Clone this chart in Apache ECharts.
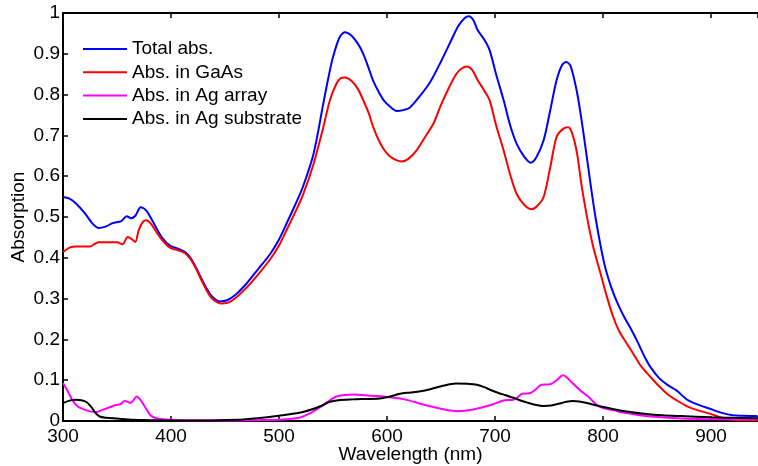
<!DOCTYPE html>
<html>
<head>
<meta charset="utf-8">
<script src="https://cdn.jsdelivr.net/npm/echarts@6/dist/echarts.min.js"></script>
<style>
html,body{margin:0;padding:0;background:#fff;}
#chart{width:758px;height:466px;}
</style>
</head>
<body>
<div id="chart"></div>
<script>
// Total absorption (blue)
var totalX = [300,306,312,320,327,333,340,346,354,359,363,367,372,377,385,392,399,407,413,418,423,428,433,438,445,452,460,470,480,492,500,507,515,522,532,541,546,550,556,561,567,573,578,583,587,592,597,603,609,615,621,630,640,649,658,666,672,676,680,684,690,695,701,708,714,720,727,733,738,745,751,757,762,766,770,775.6,780,785,789,793,797,802,808,814,820,826,832,838,844,852,860,868,878,888,899,910,920,930,943];
var totalY = [0.549,0.545,0.533,0.51,0.485,0.473,0.477,0.485,0.490,0.502,0.497,0.503,0.524,0.516,0.48,0.448,0.43,0.422,0.414,0.400,0.377,0.350,0.325,0.305,0.293,0.296,0.310,0.337,0.370,0.410,0.445,0.484,0.530,0.573,0.655,0.778,0.845,0.892,0.940,0.953,0.945,0.925,0.90,0.865,0.835,0.808,0.786,0.770,0.760,0.762,0.768,0.795,0.831,0.876,0.925,0.968,0.988,0.992,0.982,0.958,0.935,0.909,0.85,0.786,0.725,0.680,0.648,0.633,0.645,0.688,0.76,0.835,0.872,0.880,0.870,0.81,0.74,0.647,0.57,0.50,0.44,0.377,0.325,0.285,0.253,0.225,0.194,0.160,0.132,0.105,0.088,0.075,0.052,0.040,0.030,0.020,0.014,0.013,0.012];

// Absorption in GaAs (red)
var gaasX = [300,306,312,318,325,330,333,340,350,355,360,364,367,370,374,377,381,386,392,399,407,413,418,423,428,433,438,446,453,460,470,480,492,500,507,515,522,532,541,547,553,557,561,567,573,578,583,587,592,597,602,608,614,620,627,635,643,650,657,664,669,674,679,684,690,695,701,708,714,720,727,734,739,745,751,757,763,768,772,776,780,783.5,787,791,797,803,809,815,822,828,835,844,852,860,868,878,888,899,910,920,930,943];
var gaasY = [0.414,0.425,0.428,0.428,0.428,0.435,0.438,0.438,0.438,0.433,0.451,0.445,0.439,0.467,0.488,0.492,0.485,0.465,0.443,0.425,0.418,0.411,0.397,0.374,0.346,0.320,0.300,0.288,0.290,0.302,0.327,0.357,0.397,0.43,0.468,0.512,0.553,0.63,0.72,0.785,0.826,0.840,0.842,0.834,0.814,0.786,0.755,0.722,0.690,0.666,0.650,0.640,0.636,0.643,0.662,0.695,0.729,0.775,0.815,0.850,0.864,0.869,0.86,0.835,0.81,0.786,0.725,0.663,0.604,0.557,0.53,0.519,0.527,0.549,0.62,0.696,0.716,0.720,0.70,0.655,0.58,0.525,0.475,0.426,0.368,0.31,0.258,0.220,0.19,0.165,0.135,0.108,0.085,0.065,0.051,0.036,0.026,0.018,0.008,0.003,0.002,0.002];

// Absorption in Ag array (magenta)
var arrayX = [300,305,309,314,320,326,331,337,343.5,349,353,357,360,362,365,368,370,373,377,381,385,390,400,420,450,480,500,510,519,528,538,545,553,561,570,580,590,600,612,621,630,640,650,658,665,672,683,692,698,704,709,717,721,725,732,737,743,751,757,763,766,771,779,787,794,800,810,820,840,860,886,910,943];
var arrayY = [0.093,0.07,0.05,0.035,0.028,0.023,0.022,0.028,0.034,0.039,0.041,0.049,0.047,0.044,0.05,0.06,0.057,0.047,0.03,0.014,0.008,0.005,0.003,0.001,0.001,0.002,0.003,0.005,0.008,0.018,0.034,0.047,0.060,0.064,0.065,0.063,0.061,0.059,0.055,0.050,0.043,0.036,0.030,0.026,0.024,0.025,0.030,0.036,0.041,0.047,0.051,0.052,0.058,0.067,0.068,0.076,0.089,0.090,0.100,0.112,0.108,0.095,0.075,0.058,0.040,0.032,0.026,0.02,0.012,0.008,0.005,0.004,0.004];

// Absorption in Ag substrate (black)
var substrateX = [300,306,312,317,322,326,330,334,340,350,365,380,400,430,460,480,500,519,530,540,547,555,568,580,593,603,612,622,631,640,650,658,664,675,683,690,696,702,710,717,723,730,737,745,752,760,766,772,778,785,797,810,825,840,855,872,900,920,943];
var substrateY = [0.044,0.05,0.052,0.051,0.046,0.035,0.02,0.011,0.008,0.006,0.003,0.002,0.001,0.001,0.003,0.007,0.013,0.020,0.028,0.038,0.047,0.051,0.053,0.054,0.055,0.060,0.067,0.070,0.073,0.078,0.085,0.090,0.092,0.091,0.089,0.083,0.076,0.070,0.063,0.057,0.051,0.045,0.040,0.037,0.038,0.043,0.047,0.049,0.048,0.044,0.036,0.029,0.022,0.017,0.014,0.012,0.009,0.008,0.007];

var seriesNames = ['Total abs.', 'Abs. in GaAs', 'Abs. in Ag array', 'Abs. in Ag substrate'];
var seriesColors = ['#0000ff', '#ff0000', '#ff00ff', '#000000'];
var xTicks = [300,400,500,600,700,800,900];

function zip(xs, ys){ return xs.map(function(x,i){ return [x, ys[i]]; }); }
var allData = [zip(totalX,totalY), zip(gaasX,gaasY), zip(arrayX,arrayY), zip(substrateX,substrateY)];

var FONT = '"Liberation Sans", Arial, sans-serif';
var chart = echarts.init(document.getElementById('chart'), null, {renderer:'canvas'});
var option = {
  animation: false,
  backgroundColor: '#ffffff',
  grid: {left: 63, right: 0, top: 13, bottom: 45, containLabel: false, outerBoundsMode: 'none'},
  legend: {
    orient: 'vertical', left: 78, top: 34,
    itemWidth: 44, itemHeight: 2, itemGap: 3.3, icon: 'rect',
    textStyle: {fontFamily: FONT, fontSize: 19, color: '#000', lineHeight: 20},
    data: seriesNames
  },
  xAxis: [{
    type: 'value', min: 300, max: 943.5, interval: 100, position: 'bottom',
    axisLine: {show: true, lineStyle: {color: '#000', width: 2}},
    axisTick: {show: true, inside: true, length: 5, lineStyle: {color: '#000', width: 1.5}},
    axisLabel: {fontFamily: FONT, fontSize: 19, color: '#000', margin: 6,
      formatter: function(v){ return xTicks.indexOf(v) >= 0 ? String(v) : ''; }},
    splitLine: {show: false},
    name: 'Wavelength (nm)', nameLocation: 'middle', nameGap: 24, nameMoveOverlap: false,
    nameTextStyle: {fontFamily: FONT, fontSize: 19, color: '#000'}
  },{
    type: 'value', min: 300, max: 943.5, interval: 100, position: 'top',
    axisLine: {show: true, lineStyle: {color: '#000', width: 2}},
    axisTick: {show: true, inside: true, length: 5, lineStyle: {color: '#000', width: 1.5}},
    axisLabel: {show: false},
    splitLine: {show: false}
  }],
  yAxis: {
    type: 'value', min: 0, max: 1, interval: 0.1,
    axisLine: {show: true, lineStyle: {color: '#000', width: 2}},
    axisTick: {show: true, inside: true, length: 5, lineStyle: {color: '#000', width: 1.5}},
    axisLabel: {fontFamily: FONT, fontSize: 19, color: '#000', margin: 3},
    splitLine: {show: false},
    name: 'Absorption', nameLocation: 'middle', nameGap: 35, nameMoveOverlap: false,
    nameTextStyle: {fontFamily: FONT, fontSize: 19, color: '#000'}
  },
  series: allData.map(function(d, i){
    return {
      name: seriesNames[i], type: 'line', xAxisIndex: 0, data: d,
      showSymbol: false, smooth: 0.3,
      lineStyle: {color: seriesColors[i], width: 2},
      itemStyle: {color: seriesColors[i]}
    };
  })
};
chart.setOption(option);
</script>
</body>
</html>
